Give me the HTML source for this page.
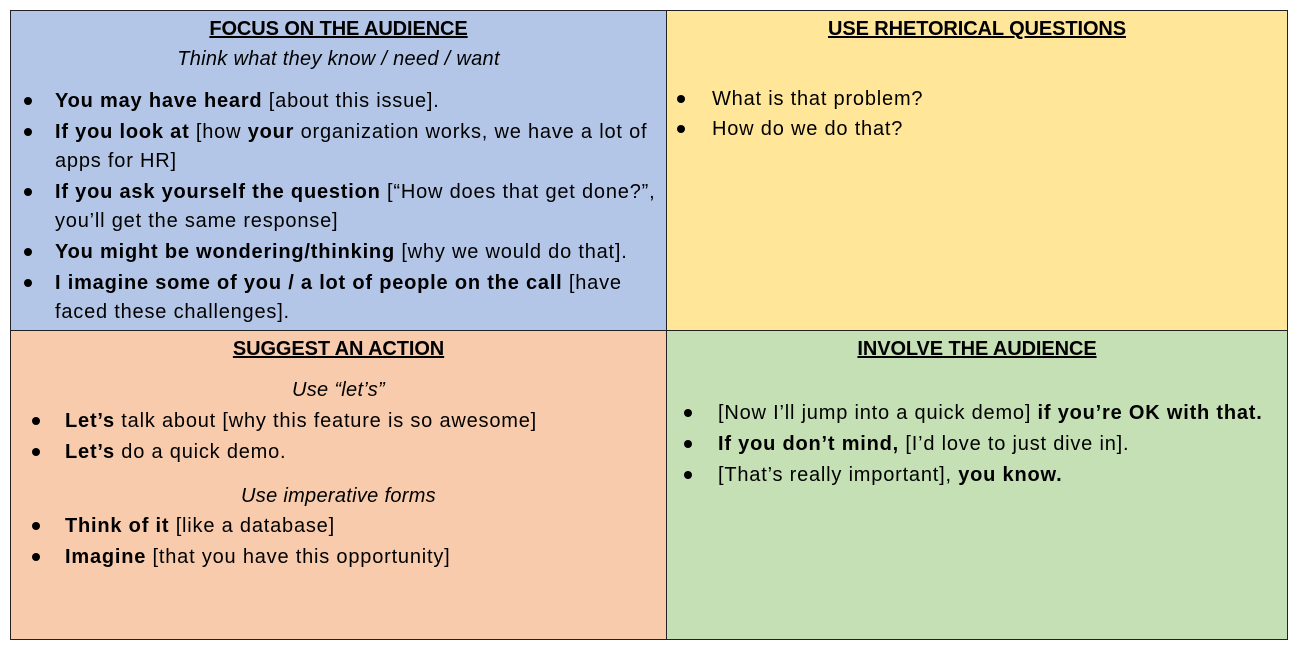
<!DOCTYPE html>
<html><head><style>
body{margin:0;width:1297px;height:649px;background:#fff;font-family:"Liberation Sans",sans-serif;font-size:20px;color:#000;position:relative;overflow:hidden}
.c{position:absolute;box-sizing:border-box;border:1px solid #222}
.t{position:absolute;white-space:nowrap;line-height:24px;transform:translateY(-10px);letter-spacing:0.8px}
.h{font-weight:bold;text-decoration:underline;text-align:center;letter-spacing:-0.1px}
.i{font-style:italic;text-align:center;letter-spacing:0.3px}
.b{position:absolute;width:8px;height:8px;border-radius:50%;background:#000;transform:translate(-4px,-2px)}
</style></head><body>
<div class="c" style="left:10px;top:10px;width:657px;height:321px;background:#B4C6E7"></div>
<div class="c" style="left:666px;top:10px;width:622px;height:321px;background:#FFE699"></div>
<div class="c" style="left:10px;top:330px;width:657px;height:310px;background:#F8CBAD"></div>
<div class="c" style="left:666px;top:330px;width:622px;height:310px;background:#C5E0B4"></div>

<div class="t h" style="left:10px;width:657px;top:27px">FOCUS ON THE AUDIENCE</div>
<div class="t i" style="left:10px;width:657px;top:57px">Think what they know / need / want</div>
<div class="b" style="left:28px;top:99px"></div><div class="t" style="left:55px;top:99px"><b>You may have heard</b> [about this issue].</div>
<div class="b" style="left:28px;top:130px"></div><div class="t" style="left:55px;top:130px"><b>If you look at</b> [how <b>your</b> organization works, we have a lot of</div>
<div class="t" style="left:55px;top:159px">apps for HR]</div>
<div class="b" style="left:28px;top:190px"></div><div class="t" style="left:55px;top:190px"><b>If you ask yourself the question</b> [“How does that get done?”,</div>
<div class="t" style="left:55px;top:219px">you’ll get the same response]</div>
<div class="b" style="left:28px;top:250px"></div><div class="t" style="left:55px;top:250px"><b>You might be wondering/thinking</b> [why we would do that].</div>
<div class="b" style="left:28px;top:281px"></div><div class="t" style="left:55px;top:281px"><b>I imagine some of you / a lot of people on the call</b> [have</div>
<div class="t" style="left:55px;top:310px">faced these challenges].</div>

<div class="t h" style="left:666px;width:622px;top:27px">USE RHETORICAL QUESTIONS</div>
<div class="b" style="left:681px;top:97px"></div><div class="t" style="left:712px;top:97px">What is that problem?</div>
<div class="b" style="left:681px;top:127px"></div><div class="t" style="left:712px;top:127px">How do we do that?</div>

<div class="t h" style="left:10px;width:657px;top:347px">SUGGEST AN ACTION</div>
<div class="t i" style="left:10px;width:657px;top:388px">Use “let’s”</div>
<div class="b" style="left:36px;top:419px"></div><div class="t" style="left:65px;top:419px"><b>Let’s</b> talk about [why this feature is so awesome]</div>
<div class="b" style="left:36px;top:450px"></div><div class="t" style="left:65px;top:450px"><b>Let’s</b> do a quick demo.</div>
<div class="t i" style="left:10px;width:657px;top:494px">Use imperative forms</div>
<div class="b" style="left:36px;top:524px"></div><div class="t" style="left:65px;top:524px"><b>Think of it</b> [like a database]</div>
<div class="b" style="left:36px;top:555px"></div><div class="t" style="left:65px;top:555px"><b>Imagine</b> [that you have this opportunity]</div>

<div class="t h" style="left:666px;width:622px;top:347px">INVOLVE THE AUDIENCE</div>
<div class="b" style="left:688px;top:411px"></div><div class="t" style="left:718px;top:411px">[Now I’ll jump into a quick demo] <b>if you’re OK with that.</b></div>
<div class="b" style="left:688px;top:442px"></div><div class="t" style="left:718px;top:442px"><b>If you don’t mind,</b> [I’d love to just dive in].</div>
<div class="b" style="left:688px;top:473px"></div><div class="t" style="left:718px;top:473px">[That’s really important], <b>you know.</b></div>
</body></html>
